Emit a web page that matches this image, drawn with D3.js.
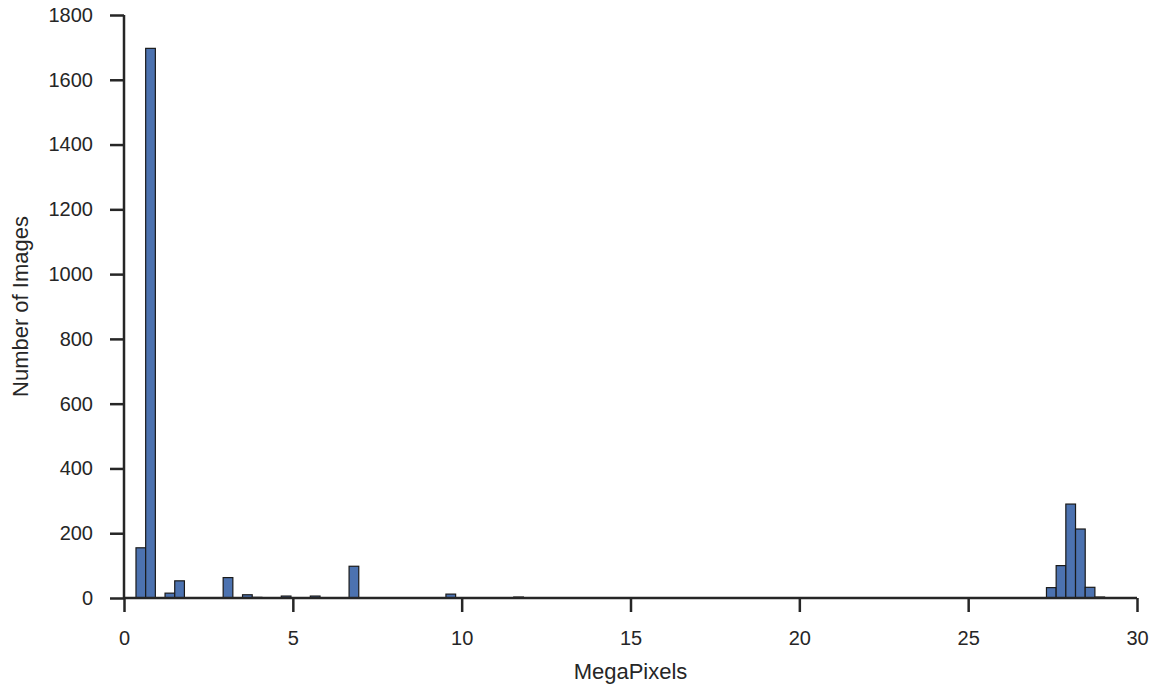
<!DOCTYPE html>
<html>
<head>
<meta charset="utf-8">
<script src="https://cdn.jsdelivr.net/npm/d3@7"></script>
<style>
  body { margin: 0; background: #fff; }
  text { font-family: "Liberation Sans", Arial, sans-serif; fill: #262626; }
</style>
</head>
<body>
<svg id="chart" width="1158" height="686"></svg>
<script>
// histogram: 100 bins between min and max MegaPixels
const dataMin = 0.355
const dataMax = 29.04
const counts = [
  155, 1697, 0, 15, 53, 0, 0, 0, 0, 63,
  0, 10, 2, 0, 0, 6, 0, 0, 6, 0,
  0, 0, 98, 0, 0, 0, 0, 0, 0, 0,
  0, 0, 12, 0, 0, 0, 0, 0, 0, 3,
  0, 0, 0, 0, 0, 0, 0, 0, 0, 0,
  0, 0, 0, 0, 0, 0, 0, 0, 0, 0,
  0, 0, 0, 0, 0, 0, 0, 0, 0, 0,
  0, 0, 0, 0, 0, 0, 0, 0, 0, 0,
  0, 0, 0, 0, 0, 0, 0, 0, 0, 0,
  0, 0, 0, 0, 32, 100, 290, 213, 33, 3
]
const xTicks = [0, 5, 10, 15, 20, 25, 30]
const yTicks = [0, 200, 400, 600, 800, 1000, 1200, 1400, 1600, 1800]

const svg = d3.select("#chart")
const axisColor = "#262626"

let xScale = d3.scaleLinear().domain([0, 30]).range([124, 1137])
let yScale = d3.scaleLinear().domain([0, 1800]).range([598, 15])

// bins from counts
const binW = (dataMax - dataMin) / counts.length
let bins = counts.map((c, i) => ({x0: dataMin + i * binW, x1: dataMin + (i + 1) * binW, y: c}))

svg.append("g")
  .selectAll("rect")
  .data(bins)
  .join("rect")
    .attr("x", d => xScale(d.x0))
    .attr("y", d => yScale(d.y))
    .attr("width", d => xScale(d.x1) - xScale(d.x0))
    .attr("height", d => yScale(0) - yScale(d.y))
    .attr("fill", "#4C72B0")
    .attr("stroke", "#1a1a1a")
    .attr("stroke-width", 1.2)

// x axis
let xAxis = svg.append("g")
  .attr("transform", `translate(0, ${yScale(0)})`)
  .call(d3.axisBottom(xScale).tickValues(xTicks).tickSize(14).tickPadding(19).tickFormat(d3.format("d")))
// y axis
let yAxis = svg.append("g")
  .attr("transform", `translate(${xScale(0)}, 0)`)
  .call(d3.axisLeft(yScale).tickValues(yTicks).tickSize(14).tickPadding(17).tickFormat(d3.format("d")))

for (let ax of [xAxis, yAxis]) {
  ax.select(".domain").attr("stroke", axisColor).attr("stroke-width", 2.5)
  ax.selectAll(".tick line").attr("stroke", axisColor).attr("stroke-width", 2.5)
  ax.selectAll(".tick text").style("font-size", "20px").attr("fill", axisColor)
}
// plain domain lines without outer ticks
xAxis.select(".domain").attr("d", `M${xScale(0)},0H${xScale(30)}`)
yAxis.select(".domain").attr("d", `M0,${yScale(0)}V${yScale(1800)}`)

svg.append("text")
  .attr("x", (xScale(0) + xScale(30)) / 2)
  .attr("y", 679)
  .attr("text-anchor", "middle")
  .style("font-size", "22px")
  .text("MegaPixels")

svg.append("text")
  .attr("transform", `translate(28, ${(yScale(0) + yScale(1800)) / 2}) rotate(-90)`)
  .attr("text-anchor", "middle")
  .style("font-size", "22px")
  .text("Number of Images")
</script>
</body>
</html>
